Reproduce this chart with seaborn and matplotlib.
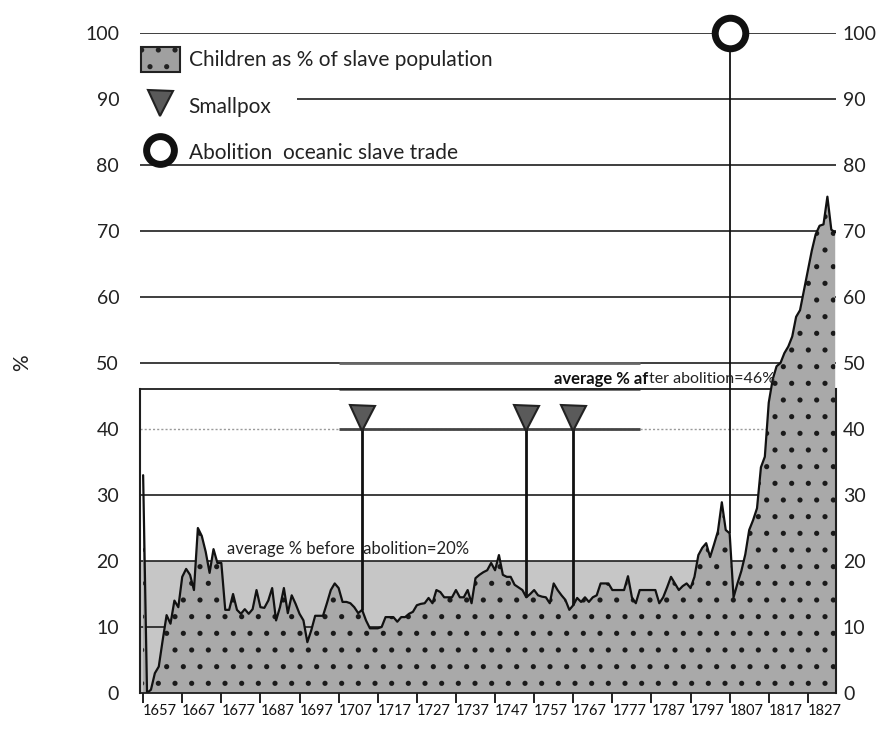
import matplotlib
matplotlib.use('Agg')
import matplotlib.pyplot as plt
import seaborn as sns
import pandas as pd
from matplotlib.patches import Patch
from matplotlib.lines import Line2D

# ---------------- data ----------------
years = list(range(1657, 1835))
children_pct = [
    33, 0, 0.5, 3, 4, 8, 11.8, 10.5, 14, 13,                 # 1657-1666
    17.6, 18.8, 17.9, 15.6, 25, 23.8, 21.4, 18.2, 21.8, 19.7,  # 1667-1676
    19.7, 12.6, 12.6, 15, 12.6, 12, 12.7, 12, 12.7, 15.6,      # 1677-1686
    13, 12.9, 14, 15.9, 11, 13, 15.9, 12.1, 14.8, 13.5,        # 1687-1696
    12, 11, 7.7, 9.5, 11.7, 11.7, 11.7, 13.6, 15.6, 16.6,      # 1697-1706
    15.9, 13.8, 13.8, 13.6, 13, 12.1, 12.6, 11, 9.8, 9.8,      # 1707-1716
    9.8, 10, 11.5, 11.5, 11.5, 10.8, 11.5, 11.5, 12, 12.3,     # 1717-1726
    13.3, 13.5, 13.6, 14.4, 13.6, 15.6, 15.3, 14.5, 14.5, 14.5,  # 1727-1736
    15.6, 14.5, 14.5, 15.6, 13.6, 17.4, 17.9, 18.3, 18.6, 19.7,  # 1737-1746
    18.6, 20.9, 17.9, 17.6, 17.6, 16.4, 16, 15.6, 14.5, 15,      # 1747-1756
    15.6, 14.8, 14.6, 14.5, 13.6, 16.6, 15.6, 14.8, 14.1, 12.6,  # 1757-1766
    13.3, 14.4, 13.8, 14.5, 13.8, 14.5, 14.8, 16.6, 16.6, 16.6,  # 1767-1776
    15.6, 15.6, 15.6, 15.6, 17.7, 14.5, 13.6, 15.6, 15.6, 15.6,  # 1777-1786
    15.6, 15.6, 13.6, 14.5, 16, 17.6, 16.6, 15.6, 16.2, 16.6,    # 1787-1796
    15.9, 17.6, 20.9, 22, 22.7, 20.6, 22.5, 24.5, 28.9, 24.7,    # 1797-1806
    24.2, 14.5, 16.6, 18.5, 21, 24.7, 26.2, 28, 34.2, 35.8,      # 1807-1816
    44, 47.5, 49.5, 50, 51.5, 52.5, 54, 57, 58, 61,              # 1817-1826
    64, 67, 69.5, 70.8, 71, 75.2, 70.2, 69.8,                    # 1827-1834
]
smallpox_years = [1713, 1755, 1767]
smallpox_level = 41.6
abolition_year = 1807
abolition_level = 100
avg_before = 20
avg_after = 46
tick_years = list(range(1657, 1828, 10))
y_ticks = list(range(0, 101, 10))

legend_labels = ["Children as % of slave population", "Smallpox",
                 "Abolition  oceanic slave trade"]
text_before = "average % before  abolition=20%"
text_after_bold = "average % af"
text_after_rest = "ter abolition=46%"

df = pd.DataFrame({"year": years, "pct": children_pct})
lookup = dict(zip(years, children_pct))

# ---------------- style ----------------
sns.set_theme(style="white")
plt.rcParams['font.family'] = ['Lato', 'DejaVu Sans']
plt.rcParams['hatch.color'] = '#1a1a1a'
plt.rcParams['hatch.linewidth'] = 1.3

fig = plt.figure(figsize=(8.88, 7.31), dpi=100)
ax = fig.add_axes([140 / 888, 38 / 731, 696 / 888, 660 / 731])
x0, x1 = 1656.2, 1834.2
ax.set_xlim(x0, x1)
ax.set_ylim(0, 100)

# light band: average before abolition
ax.axhspan(0, avg_before, color='#c6c6c6', zorder=1, lw=0)

# horizontal gridlines
for v in y_ticks[1:]:
    if v == 40:
        ax.hlines(v, x0, x1, color='#9a9a9a', lw=1.0, ls=(0, (1.5, 1.5)), zorder=2)
        continue
    start = 1696.4 if v == 90 else x0
    ax.hlines(v, start, x1, color='#1e1e1e', lw=1.2, zorder=2)
# pasted-over patch lines
ax.hlines(40, 1707, 1784, color='#444444', lw=2.0, zorder=2)
ax.hlines([50, avg_after], 1707, 1784, color='#666666', lw=2.0, zorder=2)

# average after line (box top)
ax.hlines(avg_after, x0, x1, color='#1e1e1e', lw=1.3, zorder=2)

# area
ax.fill_between(df["year"], 0, df["pct"], facecolor='#a9a9a9',
                edgecolor='#1a1a1a', linewidth=0, hatch='.', zorder=3)
sns.lineplot(data=df, x="year", y="pct", color='#111111', linewidth=1.6,
             ax=ax, zorder=4)

# smallpox markers and stems
ax.vlines(smallpox_years, [lookup[y] for y in smallpox_years], smallpox_level,
          color='#111111', lw=2.0, zorder=5)
ax.plot(smallpox_years, [smallpox_level] * len(smallpox_years), ls='none',
        marker='v', ms=18, mfc='#5a5a5a', mec='#222222', mew=1.5, zorder=6)

# abolition line and marker
ax.vlines(abolition_year, lookup[abolition_year], abolition_level,
          color='#111111', lw=1.3, zorder=5)
ax.plot([abolition_year], [abolition_level], ls='none', marker='o', ms=22,
        mfc='white', mec='#111111', mew=5, zorder=7, clip_on=False)

# annotations
ax.text(1678.5, 21.8, text_before, fontsize=12, ha='left', va='center',
        color='#222222', zorder=6)
ax.text(1786.3, 47.6, text_after_bold, fontsize=12, fontweight='bold',
        ha='right', va='center', color='#111111', zorder=6)
ax.text(1786.3, 47.6, text_after_rest, fontsize=11.5, ha='left', va='center',
        color='#222222', zorder=6)

# spines
ax.spines['top'].set_visible(False)
for s in ['left', 'right']:
    ax.spines[s].set_bounds(0, avg_after)
    ax.spines[s].set_color('#1e1e1e')
    ax.spines[s].set_linewidth(1.5)
    ax.spines[s].set_zorder(6)
ax.spines['bottom'].set_color('#1e1e1e')
ax.spines['bottom'].set_linewidth(1.3)
ax.spines['bottom'].set_zorder(6)

# ticks
ax.set_xticks(tick_years)
ax.set_xticklabels([str(t) for t in tick_years], fontsize=10.5, color='#111111')
for lbl in ax.get_xticklabels():
    lbl.set_horizontalalignment('left')
ax.tick_params(axis='x', bottom=True, length=7, width=1.3, color='#111111', pad=1)
ax.set_yticks(y_ticks)
ax.set_yticklabels([str(v) for v in y_ticks], fontsize=14, color='#222222')
ax.tick_params(axis='y', left=False, right=False, labelleft=True,
               labelright=False, length=0, pad=15)
ax.set_xlabel('')
ax.set_ylabel('%', fontsize=15, color='#222222')
ax.yaxis.set_label_coords(-0.155, 0.5)

# right-hand labels
ax2 = ax.twinx()
ax2.set_ylim(0, 100)
ax2.set_yticks(y_ticks)
ax2.set_yticklabels([str(v) for v in y_ticks], fontsize=14, color='#222222')
ax2.tick_params(axis='y', right=False, left=False, length=0, pad=5)
for s in ax2.spines.values():
    s.set_visible(False)
ax2.grid(False)

# legend
handles = [
    Patch(facecolor='#a0a0a0', edgecolor='#222222', hatch='.', linewidth=1.5),
    Line2D([], [], ls='none', marker='v', ms=18, mfc='#5a5a5a', mec='#222222', mew=1.5),
    Line2D([], [], ls='none', marker='o', ms=20, mfc='white', mec='#111111', mew=5),
]
leg = ax2.legend(handles, legend_labels, loc='upper left',
                 bbox_to_anchor=(-0.002, 0.982), frameon=False, fontsize=15,
                 handlelength=1.9, handleheight=1.45, handletextpad=0.4,
                 labelspacing=1.05, borderaxespad=0, borderpad=0.1)
for t in leg.get_texts():
    t.set_color('#222222')

fig.savefig('out.png', dpi=100)
